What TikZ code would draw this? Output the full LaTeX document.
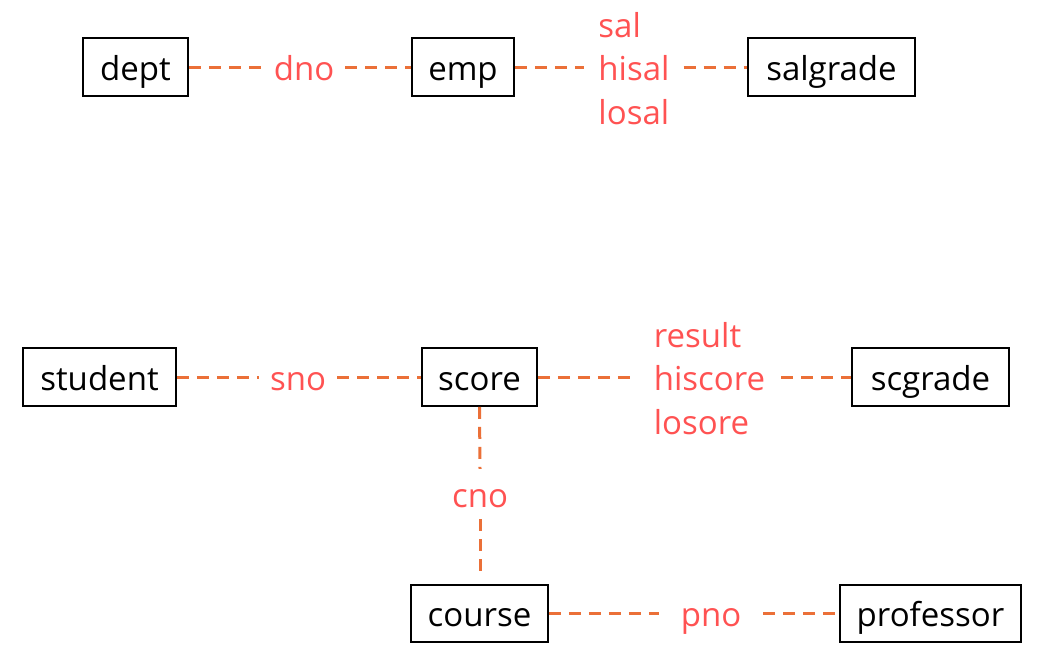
\documentclass[tikz,border=0pt]{standalone}
\usepackage{fontspec}
\setmainfont{Open Sans}
\definecolor{linkor}{RGB}{235,112,56}
\definecolor{labred}{RGB}{255,82,82}
\begin{document}
\begin{tikzpicture}[x=1pt,y=-1pt,
  tbl/.style={draw=black,line width=1.8pt,minimum height=58pt,inner sep=0pt,
    text height=30pt,text depth=4pt,
    font=\fontsize{33}{43.5}\selectfont,text=black},
  lab/.style={text=labred,inner xsep=11pt,inner ysep=9pt,align=left,
    font=\fontsize{33}{43.5}\selectfont},
  lab1/.style={lab,text height=30pt,text depth=4pt},
  link/.style={draw=linkor,line width=3pt,dash pattern=on 12pt off 8pt}]
\useasboundingbox (0,0) rectangle (1044,667);
% top row
\node[tbl,minimum width=105pt] (dept) at (135.5,67) {dept};
\node[tbl,minimum width=102pt] (emp) at (463,67) {emp};
\node[tbl,minimum width=167pt] (salgrade) at (831.5,67) {salgrade};
\node[lab1] (dno) at (304,67) {dno};
\node[lab,inner xsep=14pt] (sal) at (634,68.5) {sal\\hisal\\losal};
% middle row
\node[tbl,minimum width=153pt] (student) at (99.5,377) {student};
\node[tbl,minimum width=115pt] (score) at (479.5,377) {score};
\node[tbl,minimum width=157pt] (scgrade) at (930.5,377) {scgrade};
\node[lab1] (sno) at (298,377) {sno};
\node[lab,inner xsep=16pt] (res) at (709.5,378.5) {result\\hiscore\\losore};
% bottom
\node[lab1,inner ysep=8pt] (cno) at (480,494) {cno};
\node[tbl,minimum width=137pt,minimum height=57pt] (course) at (479.5,613.5) {course};
\node[tbl,minimum width=181pt,minimum height=57pt] (professor) at (930.5,613.5) {professor};
\node[lab1,inner xsep=22pt] (pno) at (711,613.5) {pno};
\coordinate (cend) at (480,576);
% connectors
\draw[link] (dept.east) -- (dno.west);
\draw[link] (dno.east) -- (emp.west);
\draw[link] (emp.east) -- (emp.east -| sal.west);
\draw[link] (salgrade.west -| sal.east) -- (salgrade.west);
\draw[link] (student.east) -- (sno.west);
\draw[link] (sno.east) -- (score.west);
\draw[link] (score.east) -- (score.east -| res.west);
\draw[link] (scgrade.west -| res.east) -- (scgrade.west);
\draw[link] (score.south) -- (cno.north);
\draw[link] (cno.south) -- (cend);
\draw[link] (course.east) -- (pno.west);
\draw[link] (pno.east) -- (professor.west);
\end{tikzpicture}
\end{document}
